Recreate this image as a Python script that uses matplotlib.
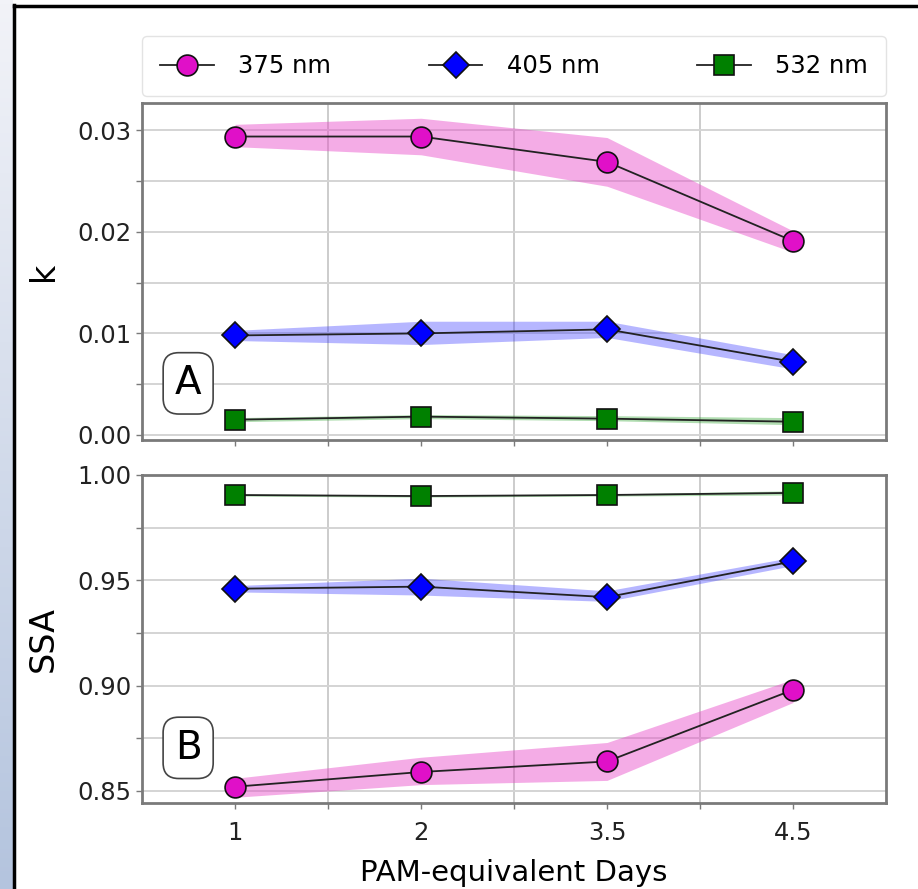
import numpy as np
import matplotlib.pyplot as plt
from matplotlib.ticker import FixedLocator, MultipleLocator, FormatStrFormatter

days = ['1', '2', '3.5', '4.5']
wavelengths = ['375 nm', '405 nm', '532 nm']

# imaginary refractive index k (mean, lower, upper)
k_375 = [0.0294, 0.0294, 0.0269, 0.0191]
k_375_lo = [0.0284, 0.0276, 0.0245, 0.0180]
k_375_hi = [0.0306, 0.0312, 0.0293, 0.0201]
k_405 = [0.0098, 0.0100, 0.0104, 0.0072]
k_405_lo = [0.0093, 0.0089, 0.0096, 0.0065]
k_405_hi = [0.0103, 0.0112, 0.0112, 0.0079]
k_532 = [0.0015, 0.0018, 0.0016, 0.0013]
k_532_lo = [0.0013, 0.0016, 0.0014, 0.0010]
k_532_hi = [0.0017, 0.0020, 0.0019, 0.0017]

# single scattering albedo (mean, lower, upper)
ssa_375 = [0.852, 0.859, 0.864, 0.898]
ssa_375_lo = [0.847, 0.853, 0.855, 0.892]
ssa_375_hi = [0.856, 0.866, 0.873, 0.903]
ssa_405 = [0.946, 0.947, 0.942, 0.959]
ssa_405_lo = [0.9445, 0.943, 0.940, 0.957]
ssa_405_hi = [0.9475, 0.951, 0.945, 0.961]
ssa_532 = [0.9905, 0.990, 0.9905, 0.9915]
ssa_532_lo = [0.990, 0.9895, 0.990, 0.9905]
ssa_532_hi = [0.991, 0.9905, 0.991, 0.9925]

styles = {
    '375 nm': dict(marker='o', mfc='#e010c8', fill='#e848c8', ms=15, falpha=0.45),
    '405 nm': dict(marker='D', mfc='#0000ff', fill='#3030ff', ms=13, falpha=0.35),
    '532 nm': dict(marker='s', mfc='#008000', fill='#20a020', ms=14, falpha=0.35),
}

plt.rcParams['font.family'] = 'DejaVu Sans'

fig = plt.figure(figsize=(9.18, 8.89), dpi=100)

# soft blue strip on the left edge and the black frame lines
strip = fig.add_axes([0, 0, 13 / 918, 1])
grad = np.linspace(0, 1, 200).reshape(-1, 1)
strip.imshow(grad, aspect='auto', cmap=plt.matplotlib.colors.LinearSegmentedColormap.from_list(
    'edge', ['#f2f3f8', '#b4c4de']), extent=[0, 1, 0, 1])
strip.axis('off')
fig.add_artist(plt.Line2D([13.5 / 918, 13.5 / 918], [0, 1 - 5 / 889], color='black', lw=2.5,
                          transform=fig.transFigure))
fig.add_artist(plt.Line2D([13.5 / 918, 1], [1 - 6 / 889, 1 - 6 / 889], color='black', lw=2.5,
                          transform=fig.transFigure))

ax_k = fig.add_axes([0.1547, 0.5051, 0.8105, 0.379])
ax_s = fig.add_axes([0.1547, 0.0968, 0.8105, 0.3689])

x = np.arange(len(days))

panels = [
    (ax_k, 'k', 'A',
     [(k_375, k_375_lo, k_375_hi), (k_405, k_405_lo, k_405_hi), (k_532, k_532_lo, k_532_hi)],
     (-0.0005, 0.0327), 0.01),
    (ax_s, 'SSA', 'B',
     [(ssa_375, ssa_375_lo, ssa_375_hi), (ssa_405, ssa_405_lo, ssa_405_hi),
      (ssa_532, ssa_532_lo, ssa_532_hi)],
     (0.8443, 1.0), 0.05),
]

handles = []
for ax, ylabel, tag, series, ylim, step in panels:
    for name, (mean, lo, hi) in zip(wavelengths, series):
        st = styles[name]
        ax.fill_between(x, lo, hi, color=st['fill'], alpha=st['falpha'], lw=0, zorder=2)
        line, = ax.plot(x, mean, color='#222222', lw=1.3, marker=st['marker'], ms=st['ms'],
                        mfc=st['mfc'], mec='#111111', mew=1.2, zorder=3, label=name)
        if ax is ax_k:
            handles.append(line)

    ax.set_xlim(-0.5, 3.5)
    ax.set_ylim(*ylim)
    ax.xaxis.set_major_locator(FixedLocator(x))
    ax.xaxis.set_minor_locator(FixedLocator([0.5, 1.5, 2.5]))
    ax.yaxis.set_major_locator(MultipleLocator(step))
    ax.yaxis.set_minor_locator(MultipleLocator(step / 2))
    ax.yaxis.set_major_formatter(FormatStrFormatter('%.2f'))
    ax.grid(which='minor', axis='x', color='#cccccc', lw=1.4)
    ax.grid(which='both', axis='y', color='#d4d4d4', lw=1.4)
    ax.set_axisbelow(True)
    for sp in ax.spines.values():
        sp.set_color('#7a7a7a')
        sp.set_linewidth(2)
    ax.tick_params(which='both', color='#7a7a7a', length=4, width=1, labelsize=17.5,
                   labelcolor='#222222')
    ax.tick_params(axis='x', pad=9)
    ax.set_ylabel(ylabel, fontsize=24)
    ax.yaxis.set_label_coords(-0.11, 0.5)
    ax.text(0.062, 0.168, tag, transform=ax.transAxes, fontsize=28, ha='center', va='center',
            bbox=dict(boxstyle='round,pad=0.3,rounding_size=0.4', fc='white', ec='#444444',
                      lw=1.2), zorder=5)

ax_k.set_xticklabels([])
ax_s.set_xticklabels(days)
ax_s.set_xlabel('PAM-equivalent Days', fontsize=21, labelpad=10)

ax_k.legend(handles=handles, ncol=3, loc='lower left', bbox_to_anchor=(0, 1.02, 1, 0.14),
            mode='expand', fontsize=17.5, frameon=True, fancybox=True, edgecolor='#dddddd',
            handlelength=2.2, handletextpad=1.0, borderpad=0.75, borderaxespad=0,
            columnspacing=2.5)

fig.savefig('out.png', dpi=100, facecolor='white')
